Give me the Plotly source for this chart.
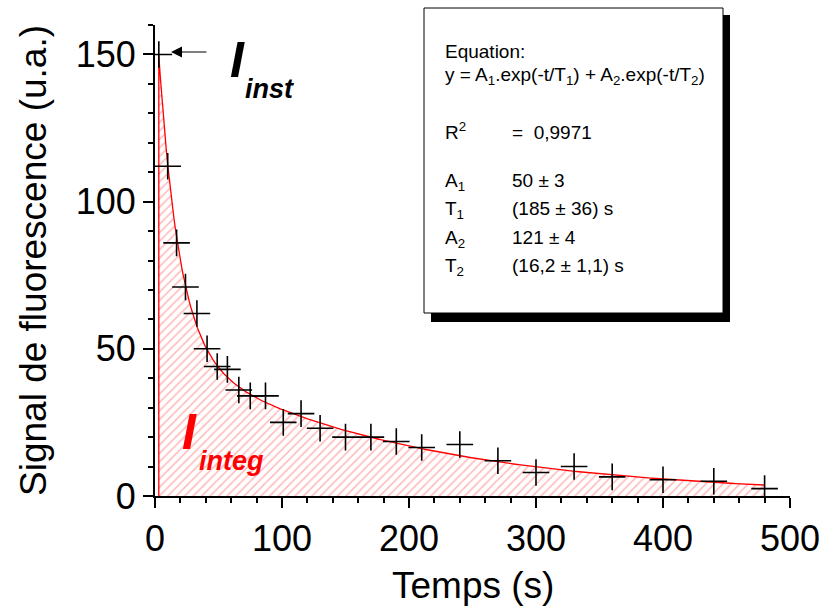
import numpy as np
import plotly.graph_objects as go

# Measured data points
time_s = [3, 10, 17, 24, 33, 41, 49, 57, 66, 75, 87, 101, 115, 130, 150, 170,
          190, 210, 240, 270, 300, 330, 360, 400, 440, 480]
signal = [150, 112, 86, 71, 62, 50, 44, 43, 36, 34, 34, 25, 28, 23, 20, 20,
          18.5, 16.5, 17.5, 12, 8, 10, 6.5, 5.5, 5, 2.5]

# Fit parameters printed on the chart
A1, T1 = 50, 185
A2, T2 = 121, 16.2

x_ticks = [0, 100, 200, 300, 400, 500]
y_ticks = [0, 50, 100, 150]

FONT = "Liberation Sans, Arial, sans-serif"

t_fit = np.linspace(time_s[0], time_s[-1], 400)
y_fit = A1 * np.exp(-t_fit / T1) + A2 * np.exp(-t_fit / T2)
t_line = np.concatenate([[time_s[0]], t_fit])
y_line = np.concatenate([[0], y_fit])

fig = go.Figure()
fig.add_trace(go.Scatter(
    x=t_line, y=y_line, mode="lines",
    line=dict(color="#ff0000", width=1.3),
    fill="tozeroy", fillcolor="rgba(0,0,0,0)",
    fillpattern=dict(shape="/", fgcolor="#ff7070", bgcolor="white",
                     size=6, solidity=0.25),
    hoverinfo="skip", showlegend=False,
))
fig.add_trace(go.Scatter(
    x=time_s, y=signal, mode="markers",
    marker=dict(symbol="cross-thin", size=19, color="black",
                line=dict(color="black", width=1.6)),
    showlegend=False,
))

L, R, T, B = 155, 32, 25, 113
PW, PH = 822 - L - R, 609 - T - B

def px(x):
    return (x - L) / PW

def py(y):
    return (609 - B - y) / PH

shapes = [
    dict(type="rect", xref="paper", yref="paper", x0=px(431), x1=px(730),
         y0=py(322), y1=py(15), fillcolor="black", line=dict(width=0), layer="above"),
    dict(type="rect", xref="paper", yref="paper", x0=px(424), x1=px(723),
         y0=py(313), y1=py(8), fillcolor="white", line=dict(color="black", width=1),
         layer="above"),
]

ann = []
def text(x, y, s, size=19, color="black", xanchor="left", yanchor="middle", angle=0):
    ann.append(dict(xref="paper", yref="paper", x=px(x), y=py(y), text=s,
                    showarrow=False, xanchor=xanchor, yanchor=yanchor,
                    textangle=angle, font=dict(family=FONT, size=size, color=color)))

text(443, 52, "Equation:")
text(443, 76, "y = A<sub>1</sub>.exp(-t/T<sub>1</sub>) + A<sub>2</sub>.exp(-t/T<sub>2</sub>)")
text(443, 131, "R<sup>2</sup>")
text(510, 133, "=  0,9971")
text(443, 182, "A<sub>1</sub>")
text(510, 180, "50 ± 3")
text(443, 210, "T<sub>1</sub>")
text(510, 208, "(185 ± 36) s")
text(443, 239, "A<sub>2</sub>")
text(510, 237, "121 ± 4")
text(443, 267, "T<sub>2</sub>")
text(510, 265, "(16,2 ± 1,1) s")

# I_inst
text(237, 60, "<b><i>I</i></b>", size=50, xanchor="center")
text(269, 89, "<b><i>inst</i></b>", size=27, xanchor="center")
# I_integ
text(189, 432, "<b><i>I</i></b>", size=50, color="#ff0000", xanchor="center")
text(231, 461, "<b><i>integ</i></b>", size=27, color="#ff0000", xanchor="center")

# axis titles
text(33, 261, "Signal de fluorescence (u.a.)", size=37, xanchor="center", angle=-90)
text(473, 563, "Temps (s)", size=37, xanchor="center", yanchor="top")

# arrow to I_inst
ann.append(dict(xref="x", yref="y", x=(171 - L) / PW * 500, y=(609 - B - 52) / PH * 160,
                ax=37, ay=0, text="", showarrow=True, arrowhead=2, arrowsize=2.2,
                arrowwidth=1, arrowcolor="black", standoff=0))

axis_common = dict(showline=True, linewidth=2, linecolor="black", ticks="outside",
                   ticklen=10, tickwidth=2, tickcolor="black", showgrid=False,
                   zeroline=False, mirror=False, automargin=False,
                   tickfont=dict(family=FONT, size=36, color="black"))

fig.update_layout(
    width=822, height=609,
    margin=dict(l=L, r=R, t=T, b=B),
    paper_bgcolor="white", plot_bgcolor="white",
    shapes=shapes, annotations=ann,
    xaxis=dict(range=[0, 500], tickvals=x_ticks,
               minor=dict(dtick=20, tick0=0, ticklen=5, tickwidth=2, tickcolor="black",
                          ticks="outside", showgrid=False),
               **axis_common),
    yaxis=dict(range=[0, 160], tickvals=y_ticks,
               minor=dict(dtick=10, tick0=0, ticklen=5, tickwidth=2, tickcolor="black",
                          ticks="outside", showgrid=False),
               **axis_common),
)

fig.write_html("out.html", config={"displayModeBar": False},
               post_script="document.body.style.margin='0px';")
